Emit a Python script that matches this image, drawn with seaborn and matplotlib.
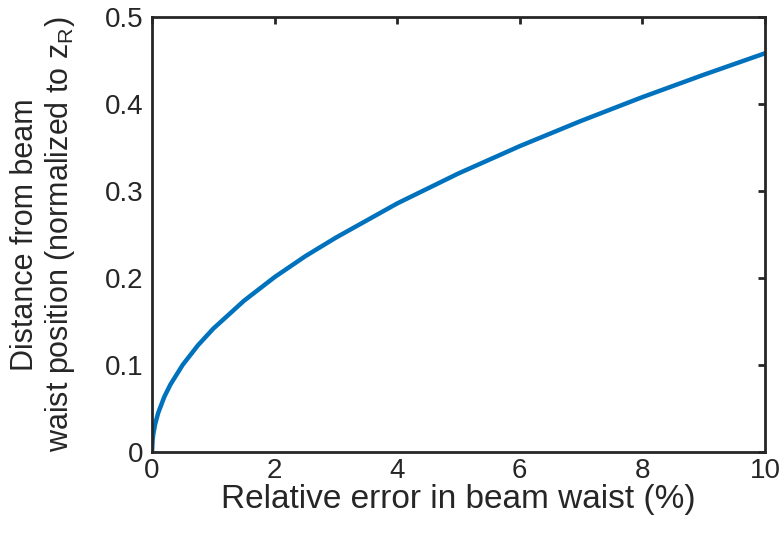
import matplotlib
matplotlib.use("Agg")
import matplotlib.pyplot as plt
import seaborn as sns
import pandas as pd

# Data
rel_error_pct = [0, 0.01, 0.02, 0.05, 0.1, 0.2, 0.3, 0.5, 0.75, 1, 1.5, 2, 2.5, 3, 4, 5, 6, 7, 8, 9, 10]
distance_norm = [0, 0.0141, 0.0200, 0.0316, 0.0447, 0.0633, 0.0775, 0.1001, 0.1227, 0.1418,
                 0.1738, 0.2010, 0.2250, 0.2464, 0.2857, 0.3202, 0.3516, 0.3806, 0.4079, 0.4336, 0.4583]
x_ticks = [0, 2, 4, 6, 8, 10]
y_ticks = [0, 0.1, 0.2, 0.3, 0.4, 0.5]
y_tick_labels = ["0", "0.1", "0.2", "0.3", "0.4", "0.5"]

sns.set_style("white")
plt.rcParams['font.family'] = ['Liberation Sans', 'DejaVu Sans']
plt.rcParams['mathtext.fontset'] = 'custom'
plt.rcParams['mathtext.rm'] = 'Liberation Sans'
plt.rcParams['mathtext.it'] = 'Liberation Sans'

df = pd.DataFrame({"x": rel_error_pct, "y": distance_norm})

fig = plt.figure(figsize=(7.83, 5.39), dpi=100)
ax = fig.add_axes([152/783, 1 - 452/539, (765-152)/783, (452-17)/539])
sns.lineplot(data=df, x="x", y="y", ax=ax, color="#0072BD", linewidth=3.2)

ax.set_xlim(0, 10)
ax.set_ylim(0, 0.5)
ax.set_xticks(x_ticks)
ax.set_xticklabels([str(t) for t in x_ticks])
ax.set_yticks(y_ticks)
ax.set_yticklabels(y_tick_labels)

for s in ax.spines.values():
    s.set_visible(True)
    s.set_color("#262626")
    s.set_linewidth(2.0)

ax.tick_params(direction="in", length=5, width=2, color="#262626",
               top=True, right=True, labelsize=20, labelcolor="#262626")
ax.tick_params(axis="x", pad=4)
ax.tick_params(axis="y", pad=6)

ax.set_xlabel("Relative error in beam waist (%)", fontsize=24, color="#262626", labelpad=0)
ax.set_ylabel("Distance from beam\nwaist position (normalized to z$_{\\mathrm{ R}}$)",
              fontsize=22, color="#262626", labelpad=20, linespacing=1.15)

fig.savefig("out.png", dpi=100)
